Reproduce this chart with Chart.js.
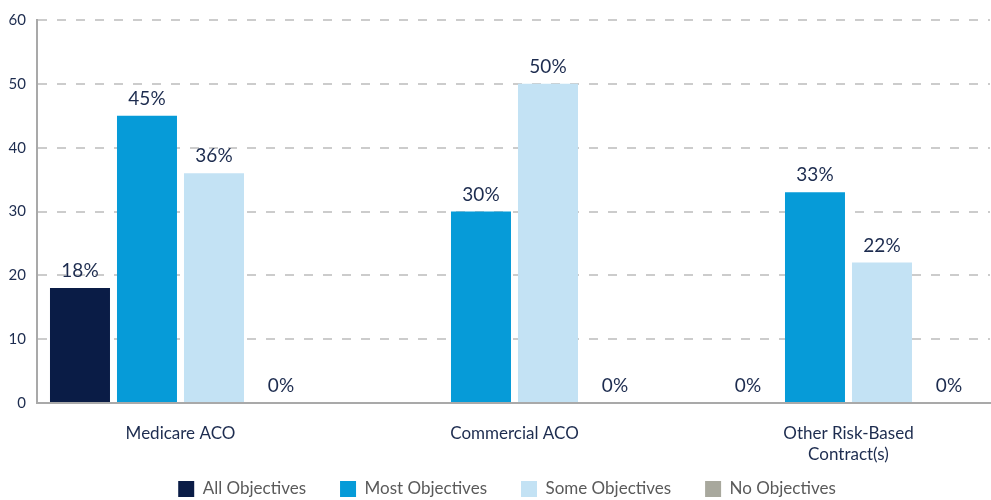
<!DOCTYPE html>
<html>
<head>
<meta charset="utf-8">
<style>
  html, body { margin: 0; padding: 0; background: #ffffff; }
  #wrap { width: 991px; height: 500px; }
</style>
<script src="https://cdn.jsdelivr.net/npm/chart.js@4/dist/chart.umd.min.js"></script>
</head>
<body>
<div id="wrap"><canvas id="chart" width="991" height="500"></canvas></div>
<script>
// Contract categories (multi-line where the label wraps)
const categories = [
  ['Medicare ACO'],
  ['Commercial ACO'],
  ['Other Risk-Based', 'Contract(s)']
];

// Share of respondents (%) per objective level
const allObjectives  = [18, null, 0];
const mostObjectives = [45, 30, 33];
const someObjectives = [36, 50, 22];
const noObjectives   = [0, 0, 0];

const yTicks = [0, 10, 20, 30, 40, 50, 60];

const NAVY_TEXT = '#1d2c4f';
const AXIS_GREY = '#a9a9a9';

Chart.defaults.font.family = 'Lato, "Noto Sans", sans-serif';

// Prints each bar's value above it
const valueLabels = {
  id: 'valueLabels',
  afterDatasetsDraw(chart) {
    const ctx = chart.ctx;
    ctx.save();
    ctx.font = '19px Lato, "Noto Sans", sans-serif';
    ctx.fillStyle = NAVY_TEXT;
    ctx.textAlign = 'center';
    ctx.textBaseline = 'alphabetic';
    chart.data.datasets.forEach((ds, di) => {
      const meta = chart.getDatasetMeta(di);
      meta.data.forEach((bar, i) => {
        const v = ds.data[i];
        if (v === null || v === undefined) return;
        ctx.fillText(v + '%', bar.x, bar.y - 11);
      });
    });
    ctx.restore();
  }
};

// Places the legend row along the bottom edge
const legendPlacement = {
  id: 'legendPlacement',
  afterLayout(chart) {
    const lg = chart.legend;
    if (!lg) return;
    lg.top = 446.5;
    lg.bottom = 500;
    lg.height = lg.bottom - lg.top;
    lg.left += 12;
    lg.right += 12;
  }
};

const xIndex = categories.map((_, i) => i);

new Chart(document.getElementById('chart'), {
  type: 'bar',
  data: {
    labels: xIndex,
    datasets: [
      { label: 'All Objectives',  data: allObjectives,  backgroundColor: '#0a1c46' },
      { label: 'Most Objectives', data: mostObjectives, backgroundColor: '#069bd8' },
      { label: 'Some Objectives', data: someObjectives, backgroundColor: '#c3e2f4' },
      { label: 'No Objectives',   data: noObjectives,   backgroundColor: '#a8a89d' }
    ]
  },
  options: {
    responsive: false,
    animation: false,
    devicePixelRatio: 1,
    layout: { padding: { top: 18, right: 1, bottom: 0, left: 0 } },
    datasets: {
      bar: {
        borderWidth: 0,
        categoryPercentage: 0.8024,
        barPercentage: 0.8955
      }
    },
    scales: {
      x: {
        type: 'linear',
        offset: false,
        min: -0.4296,
        max: 2.4237,
        bounds: 'data',
        grid: { display: false },
        border: { display: true, color: AXIS_GREY, width: 2 },
        afterBuildTicks(scale) {
          scale.ticks = xIndex.map(v => ({ value: v }));
        },
        afterFit(scale) { scale.height = 67; },
        ticks: {
          autoSkip: false,
          maxRotation: 0,
          padding: 12,
          color: NAVY_TEXT,
          font: { size: 17, lineHeight: 1.25 },
          callback: (v) => categories[v]
        }
      },
      y: {
        min: 0,
        max: 60,
        afterBuildTicks(scale) {
          scale.ticks = yTicks.map(v => ({ value: v }));
        },
        afterFit(scale) { scale.width = 37; },
        grid: {
          color: '#cccccc',
          lineWidth: 2,
          drawTicks: false
        },
        border: { display: true, color: AXIS_GREY, width: 2, dash: [9, 10] },
        ticks: {
          padding: 11,
          color: NAVY_TEXT,
          font: { size: 15 }
        }
      }
    },
    plugins: {
      legend: {
        position: 'bottom',
        maxHeight: 30,
        labels: {
          boxWidth: 16,
          boxHeight: 16,
          padding: 34,
          color: '#5a5a5a',
          font: { size: 17 }
        }
      },
      tooltip: { enabled: false }
    }
  },
  plugins: [valueLabels, legendPlacement]
});
</script>
</body>
</html>
